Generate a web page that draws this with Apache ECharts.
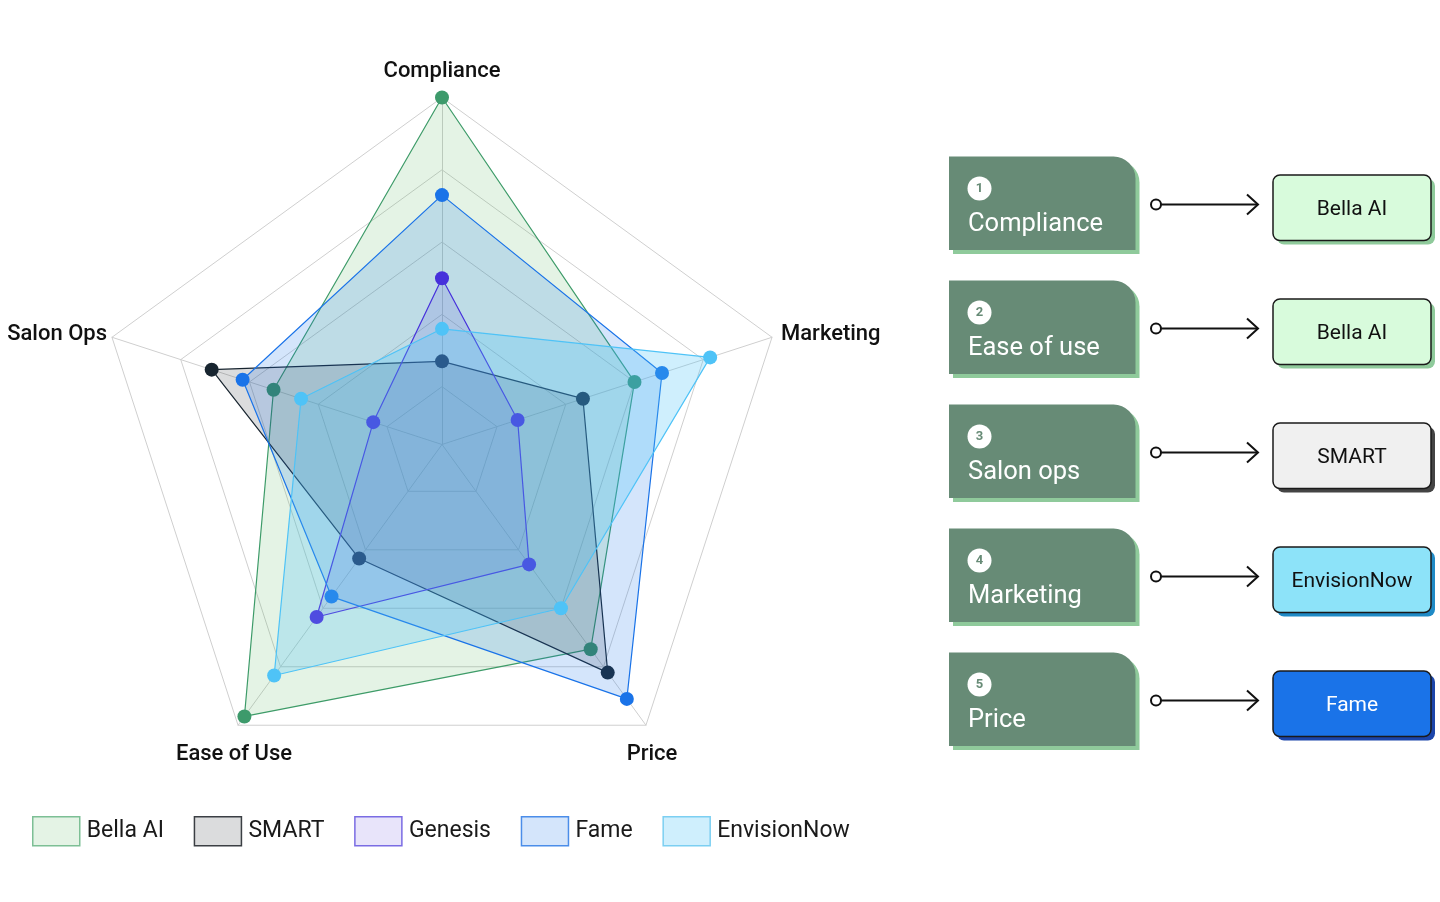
<!DOCTYPE html>
<html>
<head>
<meta charset="utf-8">
<script src="https://cdn.jsdelivr.net/npm/echarts@6/dist/echarts.min.js"></script>
<style>
  html, body { margin: 0; background: #fff; }
  #chart { width: 1440px; height: 902px; }
</style>
</head>
<body>
<div id="chart"></div>
<script>
// radar axes, clockwise from the top
var categories = ['Compliance', 'Marketing', 'Price', 'Ease of Use', 'Salon Ops']
var seriesNames = ['Bella AI', 'SMART', 'Genesis', 'Fame', 'EnvisionNow']
var bellaAi = [100, 60, 74, 97, 53]
var smart = [27, 45, 82, 43, 71]
var genesis = [50, 26, 45, 63, 24]
var fame = [73, 68, 91, 56, 62]
var envisionNow = [36, 82, 60, 83, 45]
var scaleMin = 4
var scaleMax = 100
var ringStep = 20

// winners panel
var criteria = ['Compliance', 'Ease of use', 'Salon ops', 'Marketing', 'Price']
var winners = ['Bella AI', 'Bella AI', 'SMART', 'EnvisionNow', 'Fame']

var lineColors = ['#3d9a6b', '#182530', '#5020d8', '#1a73e8', '#4fc3f7']
var fillColors = ['rgba(76,175,80,0.15)', 'rgba(33,37,41,0.16)', 'rgba(74,43,216,0.13)', 'rgba(26,115,232,0.19)', 'rgba(79,195,247,0.27)']
var legendBorders = ['#7dbf95', '#3b3f44', '#7a6ce3', '#4b8de9', '#7ccff2']
var winnerStyle = {
  'Bella AI': { fill: '#d8fbdc', shadow: '#8fca9b', text: '#111' },
  'SMART': { fill: '#f0f0f0', shadow: '#444444', text: '#111' },
  'EnvisionNow': { fill: '#8de3f9', shadow: '#1f8ac6', text: '#111' },
  'Fame': { fill: '#1a73e8', shadow: '#1b45aa', text: '#fff' }
}

// echarts radar runs counter-clockwise
var order = [0, 4, 3, 2, 1]

// fine sub-ticks so the visible rings land on multiples of ringStep
var sub = 4
var ringColors = []
for (var k = 0; k < ringStep / sub; k++) {
  ringColors.push((scaleMin + sub * k) % ringStep === 0 ? '#cfcfcf' : 'rgba(0,0,0,0)')
}

var chart = echarts.init(document.getElementById('chart'))

function radarSeries(idx, values) {
  return {
    type: 'radar',
    name: seriesNames[idx],
    z: 2 + idx,
    symbol: 'circle',
    symbolSize: 14,
    lineStyle: { color: lineColors[idx], width: 1.2 },
    itemStyle: { color: lineColors[idx], borderWidth: 0 },
    areaStyle: { color: fillColors[idx], opacity: 1 },
    emphasis: { disabled: true },
    data: [{ name: seriesNames[idx], value: order.map(function (i) { return values[i] }) }]
  }
}

var labelFont = '500 22px Roboto'
var graphics = [
  { type: 'text', x: 442, y: 71, style: { text: categories[0], font: labelFont, fill: '#111', align: 'center', verticalAlign: 'middle' } },
  { type: 'text', x: 781, y: 334.5, style: { text: categories[1], font: labelFont, fill: '#111', align: 'left', verticalAlign: 'middle' } },
  { type: 'text', x: 652, y: 754.5, style: { text: categories[2], font: labelFont, fill: '#111', align: 'center', verticalAlign: 'middle' } },
  { type: 'text', x: 234, y: 754.5, style: { text: categories[3], font: labelFont, fill: '#111', align: 'center', verticalAlign: 'middle' } },
  { type: 'text', x: 107, y: 334.5, style: { text: categories[4], font: labelFont, fill: '#111', align: 'right', verticalAlign: 'middle' } }
]

for (var r = 0; r < criteria.length; r++) {
  var rowTop = 156.5 + 124 * r
  var ws = winnerStyle[winners[r]]
  var ay = rowTop + 48
  graphics.push(
    { type: 'rect', shape: { x: 953, y: rowTop + 4, width: 186.5, height: 93.5, r: [0, 22, 0, 0] }, style: { fill: '#8fca9b' } },
    { type: 'rect', shape: { x: 949, y: rowTop, width: 186.5, height: 93.5, r: [0, 22, 0, 0] }, style: { fill: '#678b76' } },
    { type: 'circle', shape: { cx: 979.5, cy: rowTop + 32, r: 12 }, style: { fill: '#fff' } },
    { type: 'text', x: 979.5, y: rowTop + 32.5, style: { text: String(r + 1), font: 'bold 13px Roboto', fill: '#678b76', align: 'center', verticalAlign: 'middle' } },
    { type: 'text', x: 968, y: rowTop + 68, style: { text: criteria[r], font: '25.5px Roboto', fill: '#fff', align: 'left', verticalAlign: 'middle' } },
    { type: 'line', shape: { x1: 1161, y1: ay, x2: 1258, y2: ay }, style: { stroke: '#111', lineWidth: 2 } },
    { type: 'polyline', shape: { points: [[1247, ay - 10], [1258, ay], [1247, ay + 10]] }, style: { stroke: '#111', lineWidth: 2 } },
    { type: 'circle', shape: { cx: 1156, cy: ay, r: 5 }, style: { fill: '#fff', stroke: '#111', lineWidth: 2 } },
    { type: 'rect', shape: { x: 1277, y: rowTop + 22.5, width: 158, height: 65.5, r: 7 }, style: { fill: ws.shadow } },
    { type: 'rect', shape: { x: 1273, y: rowTop + 18.5, width: 158, height: 65.5, r: 7 }, style: { fill: ws.fill, stroke: '#1a1a1a', lineWidth: 1.5 } },
    { type: 'text', x: 1352, y: rowTop + 53, style: { text: winners[r], font: '21px Roboto', fill: ws.text, align: 'center', verticalAlign: 'middle' } }
  )
}

var option = {
  animation: false,
  textStyle: { fontFamily: 'Roboto' },
  legend: {
    left: 32,
    top: 816,
    padding: 0,
    icon: 'rect',
    itemWidth: 47,
    itemHeight: 29,
    itemGap: 29.75,
    selectedMode: false,
    textStyle: { fontSize: 23, color: '#1a1a1a', padding: [5, 0, 0, 2] },
    data: seriesNames.map(function (n, k) {
      return { name: n, itemStyle: { color: fillColors[k], borderColor: legendBorders[k], borderWidth: 1.5 } }
    })
  },
  radar: {
    center: [442, 444.5],
    radius: 347,
    startAngle: 90,
    shape: 'polygon',
    splitNumber: (scaleMax - scaleMin) / sub,
    indicator: order.map(function (i) {
      return { name: categories[i], min: scaleMin, max: scaleMax }
    }),
    axisName: { show: false },
    axisLine: { lineStyle: { color: '#cfcfcf', width: 1 } },
    splitLine: { lineStyle: { color: ringColors, width: 1 } },
    splitArea: { show: false }
  },
  graphic: { elements: graphics },
  series: [
    radarSeries(0, bellaAi),
    radarSeries(1, smart),
    radarSeries(2, genesis),
    radarSeries(3, fame),
    radarSeries(4, envisionNow)
  ]
}
chart.setOption(option)
</script>
</body>
</html>
